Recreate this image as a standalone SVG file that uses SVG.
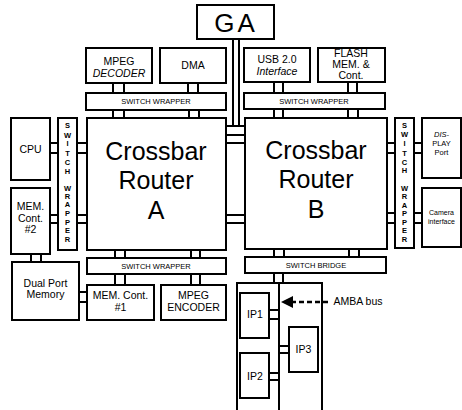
<svg xmlns="http://www.w3.org/2000/svg" width="462" height="410" viewBox="0 0 462 410">
<style>
.b{fill:#fff;stroke:#000;stroke-width:2}
.s{fill:#fff;stroke:#000;stroke-width:2}
.t{font-family:"Liberation Sans",Arial,sans-serif;fill:#000;text-anchor:middle;font-size:10.5px}
.i{font-style:italic}
.sm{font-size:7.5px}
.v{font-size:7.5px;font-weight:bold}
.big{font-size:25px}
.ln{stroke:#000;stroke-width:2;fill:none}
</style>
<defs>
<marker id="ah" markerWidth="6" markerHeight="6" refX="5" refY="3" orient="auto" markerUnits="strokeWidth">
<path d="M0,0 L6,3 L0,6 Z" fill="#000"/>
</marker>
</defs>
<rect width="462" height="410" fill="#fff"/>

<g id="connectors">
<rect class="s" x="233" y="39" width="6" height="87"/>
<line class="ln" x1="226" y1="126" x2="245" y2="126"/>
<rect class="s" x="226" y="135" width="19" height="8"/>
<rect class="s" x="226" y="215" width="19" height="8"/>
<rect class="s" x="113" y="83" width="11" height="10"/>
<rect class="s" x="188" y="83" width="10" height="10"/>
<rect class="s" x="113" y="110" width="11" height="8"/>
<rect class="s" x="189" y="110" width="10" height="8"/>
<rect class="s" x="274" y="82" width="9" height="11"/>
<rect class="s" x="348" y="82" width="9" height="11"/>
<rect class="s" x="274" y="109" width="9" height="9"/>
<rect class="s" x="348" y="109" width="10" height="9"/>
<rect class="s" x="50" y="143" width="8" height="10"/>
<rect class="s" x="77" y="143" width="10" height="10"/>
<rect class="s" x="50" y="215" width="8" height="8"/>
<rect class="s" x="77" y="215" width="10" height="8"/>
<rect class="s" x="31" y="254" width="10" height="8"/>
<rect class="s" x="79" y="292" width="8" height="10"/>
<rect class="s" x="115" y="250" width="10" height="8"/>
<rect class="s" x="191" y="250" width="9" height="8"/>
<rect class="s" x="115" y="274" width="10" height="11"/>
<rect class="s" x="191" y="274" width="9" height="11"/>
<rect class="s" x="274" y="249" width="10" height="8"/>
<rect class="s" x="349" y="249" width="10" height="8"/>
<rect class="s" x="274" y="273" width="9" height="10"/>
<rect class="s" x="387" y="143" width="8" height="10"/>
<rect class="s" x="387" y="213" width="8" height="10"/>
<rect class="s" x="414" y="143" width="8" height="10"/>
<rect class="s" x="414" y="213" width="8" height="10"/>
</g>

<g id="GA"><rect class="b" x="197" y="5" width="77" height="34"/><text class="t" x="236" y="32" style="font-size:26px;letter-spacing:3px">GA</text></g>
<g id="mpegdec"><rect class="b" x="86" y="48" width="66" height="35"/><text class="t" x="119" y="65">MPEG</text><text class="t i" x="119" y="77">DECODER</text></g>
<g id="dma"><rect class="b" x="160" y="48" width="66" height="35"/><text class="t" x="193" y="69">DMA</text></g>
<g id="usb"><rect class="b" x="244" y="48" width="66" height="34"/><text class="t" x="277" y="63">USB 2.0</text><text class="t i" x="277" y="75">Interface</text></g>
<g id="flash"><rect class="b" x="318" y="48" width="67" height="34"/><text class="t" x="351" y="57">FLASH</text><text class="t" x="351" y="68">MEM. &amp;</text><text class="t" x="351" y="79">Cont.</text></g>
<g id="wrapTL"><rect class="b" x="86" y="93" width="140" height="17"/><text class="t sm" x="156" y="104">SWITCH WRAPPER</text></g>
<g id="wrapTR"><rect class="b" x="244" y="93" width="141" height="16"/><text class="t sm" x="314" y="104">SWITCH WRAPPER</text></g>
<g id="routerA"><rect class="b" x="87" y="118" width="139" height="132"/><text class="t big" x="156" y="160">Crossbar</text><text class="t big" x="156" y="189">Router</text><text class="t big" x="156" y="219">A</text></g>
<g id="routerB"><rect class="b" x="245" y="118" width="142" height="131"/><text class="t big" x="316" y="159">Crossbar</text><text class="t big" x="316" y="188">Router</text><text class="t big" x="316" y="218">B</text></g>
<g id="cpu"><rect class="b" x="11" y="118" width="39" height="62"/><text class="t" x="30.5" y="153">CPU</text></g>
<g id="wrapL"><rect class="b" x="58" y="118" width="19" height="132"/>
<text class="t v" x="67.5" y="128">S</text><text class="t v" x="67.5" y="138">W</text><text class="t v" x="67.5" y="146">I</text><text class="t v" x="67.5" y="156">T</text><text class="t v" x="67.5" y="165">C</text><text class="t v" x="67.5" y="174">H</text>
<text class="t v" x="67.5" y="191">W</text><text class="t v" x="67.5" y="199">R</text><text class="t v" x="67.5" y="207">A</text><text class="t v" x="67.5" y="216">P</text><text class="t v" x="67.5" y="225">P</text><text class="t v" x="67.5" y="233">E</text><text class="t v" x="67.5" y="242">R</text></g>
<g id="mem2"><rect class="b" x="11" y="188" width="39" height="66"/><text class="t" x="30.5" y="210">MEM.</text><text class="t" x="30.5" y="222">Cont.</text><text class="t" x="30.5" y="233">#2</text></g>
<g id="dual"><rect class="b" x="12" y="262" width="67" height="58"/><text class="t" x="45.5" y="287">Dual Port</text><text class="t" x="45.5" y="298">Memory</text></g>
<g id="mem1"><rect class="b" x="87" y="285" width="67" height="35"/><text class="t" x="120.5" y="299">MEM. Cont.</text><text class="t" x="120.5" y="311">#1</text></g>
<g id="mpegenc"><rect class="b" x="161" y="285" width="65" height="35"/><text class="t" x="193.5" y="299">MPEG</text><text class="t" x="193.5" y="311">ENCODER</text></g>
<g id="wrapBL"><rect class="b" x="87" y="258" width="139" height="16"/><text class="t sm" x="156" y="269">SWITCH WRAPPER</text></g>
<g id="bridge"><rect class="b" x="245" y="257" width="141" height="16"/><text class="t sm" x="316" y="268">SWITCH BRIDGE</text></g>
<g id="wrapR"><rect class="b" x="395" y="118" width="19" height="130"/>
<text class="t v" x="404.5" y="128">S</text><text class="t v" x="404.5" y="137">W</text><text class="t v" x="404.5" y="146">I</text><text class="t v" x="404.5" y="156">T</text><text class="t v" x="404.5" y="165">C</text><text class="t v" x="404.5" y="173">H</text>
<text class="t v" x="404.5" y="191">W</text><text class="t v" x="404.5" y="199">R</text><text class="t v" x="404.5" y="208">A</text><text class="t v" x="404.5" y="216">P</text><text class="t v" x="404.5" y="225">P</text><text class="t v" x="404.5" y="233">E</text><text class="t v" x="404.5" y="242">R</text></g>
<g id="display"><rect class="b" x="422" y="118" width="39" height="60"/><text class="t sm i" x="441.5" y="137">DIS-</text><text class="t sm" x="441.5" y="146">PLAY</text><text class="t sm" x="441.5" y="155">Port</text></g>
<g id="camera"><rect class="b" x="422" y="188" width="39" height="59"/><text class="t" x="441.5" y="215" style="font-size:7px">Camera</text><text class="t" x="441.5" y="224" style="font-size:7px">interface</text></g>
<g id="amba"><rect class="b" x="237" y="283" width="85" height="130"/><line class="ln" x1="279" y1="283" x2="279" y2="410"/></g>
<g id="ip1"><rect class="s" x="269" y="310" width="10" height="9"/><rect class="b" x="240" y="293" width="29" height="45"/><text class="t" x="255" y="318">IP1</text></g>
<g id="ip2"><rect class="s" x="269" y="373" width="10" height="7"/><rect class="b" x="240" y="353" width="29" height="45"/><text class="t" x="255" y="380">IP2</text></g>
<g id="ip3"><rect class="s" x="279" y="346" width="10" height="7"/><rect class="b" x="289" y="327" width="29" height="45"/><text class="t" x="303.5" y="353">IP3</text></g>
<g id="ambalabel">
<line x1="328" y1="302" x2="292" y2="302" stroke="#000" stroke-width="2.5" stroke-dasharray="5,3"/>
<path d="M281,302 L293,296 L293,308 Z" fill="#000"/>
<text class="t" x="358" y="305">AMBA bus</text>
</g>
</svg>
